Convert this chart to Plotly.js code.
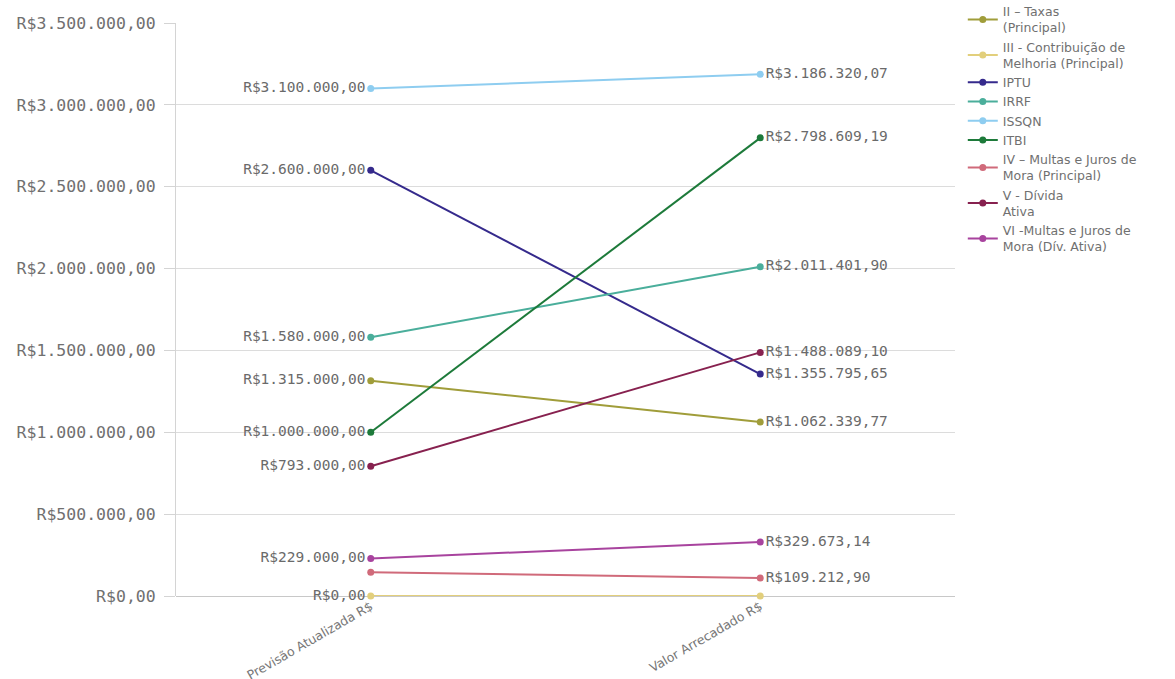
<!DOCTYPE html>
<html>
<head>
<meta charset="utf-8">
<script src="https://cdn.plot.ly/plotly-3.0.1.min.js"></script>
<style>
  html, body { margin: 0; padding: 0; background: #ffffff; }
  #chart { width: 1175px; height: 679px; }
</style>
</head>
<body>
<div id="chart"></div>
<script>
// Receitas: previsão atualizada x valor arrecadado
const categories = ["Previsão Atualizada R$", "Valor Arrecadado R$"];

const seriesNames = [
  "II – Taxas<br>(Principal)",
  "III - Contribuição de<br>Melhoria (Principal)",
  "IPTU",
  "IRRF",
  "ISSQN",
  "ITBI",
  "IV – Multas e Juros de<br>Mora (Principal)",
  "V - Dívida<br>Ativa",
  "VI -Multas e Juros de<br>Mora (Dív. Ativa)"
];

const previsao = [1315000.00, 0.00, 2600000.00, 1580000.00, 3100000.00, 1000000.00, 145000.00, 793000.00, 229000.00];
const arrecadado = [1062339.77, 0.00, 1355795.65, 2011401.90, 3186320.07, 2798609.19, 109212.90, 1488089.10, 329673.14];

// labels hidden where they would collide with a neighbour
const showLeft  = [true, true, true, true, true, true, false, true, true];
const showRight = [true, false, true, true, true, true, true, true, true];

const colors = ["#a09d3a", "#e2cf7c", "#352a8c", "#4aae9b", "#8ecdf0", "#1d7a3a", "#d06a7a", "#87214f", "#a8439e"];

const yTicks = [0, 500000, 1000000, 1500000, 2000000, 2500000, 3000000, 3500000];

function brl(v) {
  const parts = v.toFixed(2).split(".");
  const intPart = parts[0].replace(/\B(?=(\d{3})+(?!\d))/g, ".");
  return "R$" + intPart + "," + parts[1];
}

const labelFont = { family: "DejaVu Sans Mono, monospace", size: 14.5, color: "#6a6a6a" };

const traces = seriesNames.map((name, i) => ({
  type: "scatter",
  mode: "lines+markers+text",
  name: name,
  x: categories,
  y: [previsao[i], arrecadado[i]],
  text: [showLeft[i] ? brl(previsao[i]) : "", showRight[i] ? brl(arrecadado[i]) : ""],
  textposition: ["middle left", "middle right"],
  textfont: labelFont,
  line: { color: colors[i], width: 2 },
  marker: { color: colors[i], size: 7 },
  cliponaxis: false,
  hoverinfo: "x+y+name"
}));

const layout = {
  width: 1175,
  height: 679,
  margin: { l: 176, r: 220, t: 23, b: 83, autoexpand: false },
  paper_bgcolor: "#ffffff",
  plot_bgcolor: "#ffffff",
  showlegend: true,
  legend: {
    x: 1.01, xanchor: "left",
    y: 1.046, yanchor: "top",
    font: { family: "DejaVu Sans, sans-serif", size: 12.5, color: "#707070" },
    tracegroupgap: 0,
    itemwidth: 30
  },
  xaxis: {
    type: "category",
    range: [-0.5, 1.5],
    automargin: false,
    showgrid: false,
    zeroline: false,
    showline: false,
    ticks: "",
    tickangle: -30,
    tickfont: { family: "DejaVu Sans, sans-serif", size: 12.5, color: "#777777" },
    fixedrange: true
  },
  yaxis: {
    range: [0, 3500000],
    automargin: false,
    tickvals: yTicks,
    ticktext: yTicks.map(brl),
    tickfont: { family: "DejaVu Sans Mono, monospace", size: 16.5, color: "#707070" },
    showgrid: true,
    gridcolor: "#dcdcdc",
    gridwidth: 1,
    zeroline: true,
    zerolinecolor: "#c8c8c8",
    zerolinewidth: 1,
    showline: true,
    linecolor: "#d4d4d4",
    linewidth: 1,
    ticks: "outside",
    ticklen: 11,
    ticklabelstandoff: 5,
    tickcolor: "#d4d4d4",
    fixedrange: true
  }
};

Plotly.newPlot("chart", traces, layout, { displayModeBar: false });
</script>
</body>
</html>
